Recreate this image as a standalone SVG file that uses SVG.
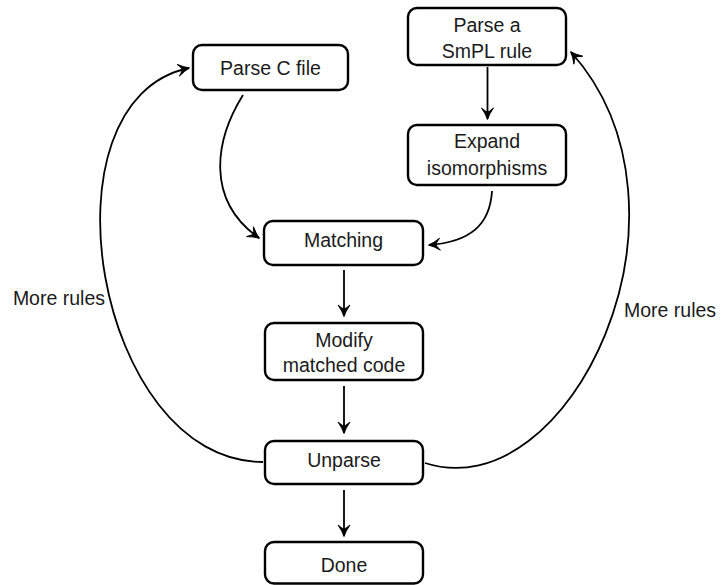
<svg xmlns="http://www.w3.org/2000/svg" width="721" height="585" viewBox="0 0 721 585">
<style>
.box{fill:#fff;stroke:#000;stroke-width:2.4}
.t{font-family:"Liberation Sans",Arial,sans-serif;font-size:19.5px;fill:#1a1a1a;text-anchor:middle}
.lbl{font-family:"Liberation Sans",Arial,sans-serif;font-size:19.5px;fill:#1a1a1a}
.c{fill:none;stroke:#000;stroke-width:1.8;marker-end:url(#ah)}
</style>
<defs>
<marker id="ah" markerUnits="userSpaceOnUse" markerWidth="16" markerHeight="16" viewBox="-13 -8 16 16" refX="0" refY="0" orient="auto">
<path d="M0.5,0 Q-5,-1.8 -11,-6 Q-7,-1.2 -7,0 Q-7,1.2 -11,6 Q-5,1.8 0.5,0 Z" fill="#000" stroke="#000" stroke-width="0.9" stroke-linejoin="round"/>
</marker>
</defs>
<g id="connectors">
<path class="c" d="M487.5,67 L487.5,119"/>
<path class="c" d="M344,270 L344,316"/>
<path class="c" d="M344,386 L344,433"/>
<path class="c" d="M344,490 L344,536"/>
<path class="c" d="M243,95 C215,140 205,200 259,238"/>
<path class="c" d="M492,191 C490,225 470,242 429,245"/>
<path class="c" d="M263,462 C95,462 35,100 189,68"/>
<path class="c" d="M425,463 C570,510 712,210 571,52"/>
</g>
<g id="parsec"><rect class="box" x="193" y="45" width="155" height="45" rx="9"/><text class="t" x="270.5" y="75">Parse C file</text></g>
<g id="smpl"><rect class="box" x="408" y="8" width="158" height="57" rx="9"/><text class="t" x="487" y="32">Parse a</text><text class="t" x="487" y="58">SmPL rule</text></g>
<g id="expand"><rect class="box" x="408" y="125" width="158" height="60" rx="9"/><text class="t" x="487" y="148">Expand</text><text class="t" x="487" y="175">isomorphisms</text></g>
<g id="matching"><rect class="box" x="264" y="221" width="159" height="44" rx="9"/><text class="t" x="343.5" y="247">Matching</text></g>
<g id="modify"><rect class="box" x="265" y="323" width="158" height="57" rx="9"/><text class="t" x="344" y="347">Modify</text><text class="t" x="344" y="372">matched code</text></g>
<g id="unparse"><rect class="box" x="265" y="441" width="158" height="43" rx="9"/><text class="t" x="344" y="467">Unparse</text></g>
<g id="done"><rect class="box" x="265" y="542" width="158" height="41.5" rx="9"/><text class="t" x="344" y="572">Done</text></g>
<g id="labels"><text class="lbl" x="105" y="305" text-anchor="end">More rules</text><text class="lbl" x="624" y="317">More rules</text></g>
</svg>
